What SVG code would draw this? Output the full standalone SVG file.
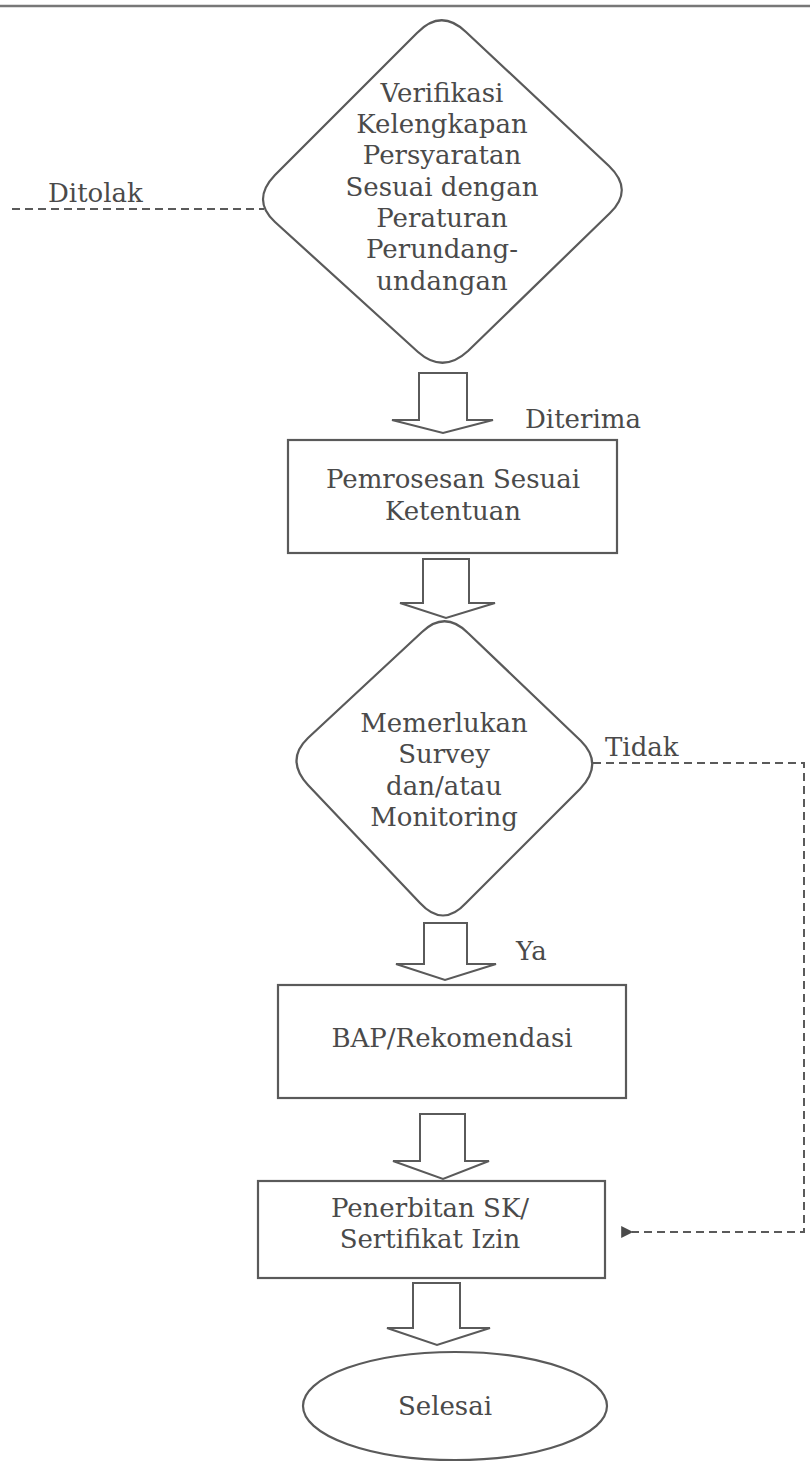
<svg xmlns="http://www.w3.org/2000/svg" width="810" height="1467" viewBox="0 0 810 1467">
<style>
.shape{fill:#fff;stroke:#5a5a5a;stroke-width:2.2}
.barrow{fill:#fff;stroke:#5a5a5a;stroke-width:2;stroke-linejoin:miter}
.dash{fill:none;stroke:#5a5a5a;stroke-width:2;stroke-dasharray:8 5}
text{font-family:"DejaVu Serif","Liberation Serif",serif;font-size:26px;fill:#4a4a4a}
.c{text-anchor:middle}
</style>
<defs>
<marker id="ah" viewBox="0 0 10 10" refX="1" refY="5" markerWidth="6.5" markerHeight="6" orient="auto-start-reverse" markerUnits="strokeWidth">
<path d="M0,5 L10,0 L10,10 Z" fill="#4a4a4a"/>
</marker>
</defs>
<rect width="810" height="1467" fill="#fff"/>
<line x1="0" y1="6" x2="810" y2="6" stroke="#777" stroke-width="2.5"/>

<g id="connectors">
<polygon class="barrow" points="419,373 467,373 467,420 493,420 443,433 392,420 419,420"/>
<polygon class="barrow" points="423,559 469,559 469,603 495,603 446,618 400,603 423,603"/>
<polygon class="barrow" points="424,923 467,923 467,964 496,964 445,980 396,964 424,964"/>
<polygon class="barrow" points="420,1114 465,1114 465,1161 489,1161 443,1179 393,1161 420,1161"/>
<polygon class="barrow" points="413,1283 460,1283 460,1328 490,1328 437,1345 387,1328 413,1328"/>
<path class="dash" d="M12,209 L264,209"/>
<path class="dash" d="M593,763 L804,763 L804,1232 L632,1232" marker-end="url(#ah)"/>
<text x="48" y="202">Ditolak</text>
<text x="525" y="428">Diterima</text>
<text x="605" y="756">Tidak</text>
<text x="516" y="960">Ya</text>
</g>

<g id="n1">
<path class="shape" d="M466,32 L609,166 Q634,190 610,213 L468,351 Q443,374 418,352 L275,222 Q251,200 275,175 L417,33 Q441,8 466,32 Z"/>
<text class="c" x="442" y="102">Verifikasi</text>
<text class="c" x="442" y="133">Kelengkapan</text>
<text class="c" x="442" y="164">Persyaratan</text>
<text class="c" x="442" y="196">Sesuai dengan</text>
<text class="c" x="442" y="227">Peraturan</text>
<text class="c" x="442" y="258">Perundang-</text>
<text class="c" x="442" y="290">undangan</text>
</g>

<g id="n2">
<rect class="shape" x="288" y="440" width="329" height="113"/>
<text class="c" x="453" y="488">Pemrosesan Sesuai</text>
<text class="c" x="453" y="520">Ketentuan</text>
</g>

<g id="n3">
<path class="shape" d="M468,633 L581,741 Q604,764 580,789 L466,903 Q443,928 420,903 L308,785 Q285,760 308,738 L422,632 Q445,610 468,633 Z"/>
<text class="c" x="444" y="732">Memerlukan</text>
<text class="c" x="444" y="763">Survey</text>
<text class="c" x="444" y="795">dan/atau</text>
<text class="c" x="444" y="826">Monitoring</text>
</g>

<g id="n4">
<rect class="shape" x="278" y="985" width="348" height="113"/>
<text class="c" x="452" y="1047">BAP/Rekomendasi</text>
</g>

<g id="n5">
<rect class="shape" x="258" y="1181" width="347" height="97"/>
<text class="c" x="430" y="1217">Penerbitan SK/</text>
<text class="c" x="430" y="1248">Sertifikat Izin</text>
</g>

<g id="n6">
<ellipse class="shape" cx="455" cy="1406" rx="152" ry="54"/>
<text class="c" x="445" y="1415">Selesai</text>
</g>
</svg>
